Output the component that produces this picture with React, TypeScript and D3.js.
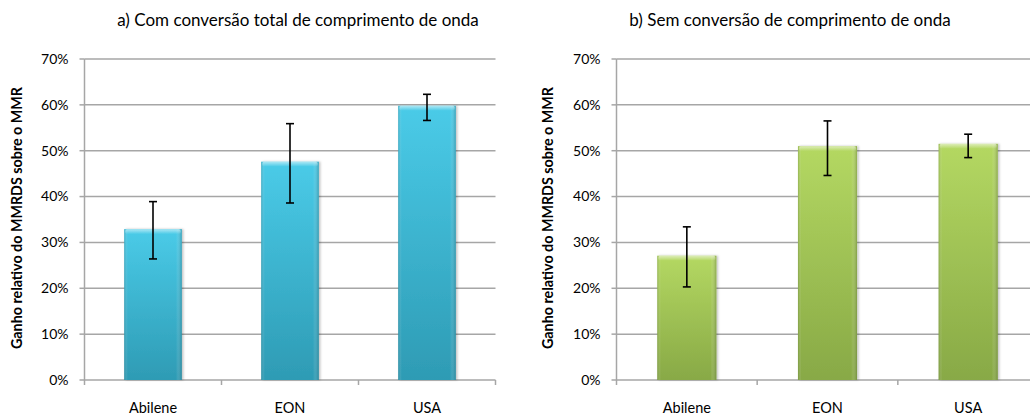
import React from "react";
import * as d3 from "d3";

const categories = ["Abilene", "EON", "USA"];
const yTicks = [0, 0.1, 0.2, 0.3, 0.4, 0.5, 0.6, 0.7];

// Panel a: full wavelength conversion
const valuesA = [0.329, 0.476, 0.598];
const errLowA = [0.264, 0.386, 0.566];
const errHighA = [0.389, 0.559, 0.623];

// Panel b: no wavelength conversion
const valuesB = [0.271, 0.510, 0.515];
const errLowB = [0.203, 0.446, 0.485];
const errHighB = [0.334, 0.565, 0.536];

const titles = [
  "a) Com conversão total de comprimento de onda",
  "b) Sem conversão de comprimento de onda",
];
const yLabel = "Ganho relativo do MMRDS sobre o MMR";

const FONT = "Lato, 'Open Sans', sans-serif";
const W = 1030;
const H = 419;

type PanelProps = {
  id: string;
  x0: number;
  x1: number;
  labelX: number;
  titleX: number;
  title: string;
  values: number[];
  lo: number[];
  hi: number[];
  top: string;
  bottom: string;
  edge: string;
};

function Panel(p: PanelProps) {
  const y = d3.scaleLinear().domain([0, 0.7]).range([380, 59]);
  const x = d3.scaleBand<string>().domain(categories).range([p.x0, p.x1]).padding(0);
  const bw = x.bandwidth() * 0.42;
  const fmt = d3.format(".0%");
  const grid = "#A6A6A6";
  return (
    <g>
      <defs>
        <linearGradient id={`v-${p.id}`} x1="0" y1="0" x2="0" y2="1">
          <stop offset="0" stopColor={p.top} />
          <stop offset="1" stopColor={p.bottom} />
        </linearGradient>
        <linearGradient id={`h-${p.id}`} x1="0" y1="0" x2="1" y2="0">
          <stop offset="0" stopColor={p.edge} stopOpacity={0.35} />
          <stop offset="0.06" stopColor="#ffffff" stopOpacity={0.0} />
          <stop offset="0.9" stopColor="#ffffff" stopOpacity={0.0} />
          <stop offset="1" stopColor={p.edge} stopOpacity={0.45} />
        </linearGradient>
        <linearGradient id={`t-${p.id}`} x1="0" y1="0" x2="0" y2="1">
          <stop offset="0" stopColor="#ffffff" stopOpacity={0.55} />
          <stop offset="1" stopColor="#ffffff" stopOpacity={0} />
        </linearGradient>
        <filter id={`s-${p.id}`} x="-20%" y="-5%" width="140%" height="110%">
          <feDropShadow dx="1.5" dy="0" stdDeviation="1.2" floodColor="#000" floodOpacity="0.25" />
        </filter>
      </defs>
      <text x={p.titleX} y={26} textAnchor="middle" fontFamily={FONT} fontSize={17} fill="#000">
        {p.title}
      </text>
      <text
        transform={`translate(${p.labelX},218) rotate(-90)`}
        textAnchor="middle"
        fontFamily={FONT}
        fontSize={14.3}
        fontWeight="bold"
        fill="#000"
      >
        {yLabel}
      </text>
      {yTicks.map((t) => (
        <g key={t}>
          {t > 0 && (
            <line x1={p.x0} x2={p.x1} y1={y(t)} y2={y(t)} stroke={grid} strokeWidth={1.5} />
          )}
          <line x1={p.x0 - 5} x2={p.x0} y1={y(t)} y2={y(t)} stroke={grid} strokeWidth={1.5} />
          <text
            x={p.x0 - 16}
            y={y(t)}
            dy="0.35em"
            textAnchor="end"
            fontFamily={FONT}
            fontSize={14}
            fill="#000"
          >
            {fmt(t)}
          </text>
        </g>
      ))}
      <line x1={p.x0} x2={p.x0} y1={y(0.7)} y2={y(0)} stroke={grid} strokeWidth={1.5} />
      <line x1={p.x0} x2={p.x1} y1={y(0)} y2={y(0)} stroke={grid} strokeWidth={1.5} />
      {[0, 1, 2, 3].map((i) => {
        const xx = p.x0 + i * x.step();
        return <line key={i} x1={xx} x2={xx} y1={y(0)} y2={y(0) + 5} stroke={grid} strokeWidth={1.5} />;
      })}
      {categories.map((c, i) => {
        const cx = (x(c) as number) + x.bandwidth() / 2;
        const bx = cx - bw / 2;
        const by = y(p.values[i]);
        const bh = y(0) - by;
        return (
          <g key={c}>
            <g filter={`url(#s-${p.id})`}>
              <rect x={bx} y={by} width={bw} height={bh} fill={`url(#v-${p.id})`} />
            </g>
            <rect x={bx} y={by} width={bw} height={bh} fill={`url(#h-${p.id})`} />
            <rect x={bx + 1} y={by} width={bw - 2} height={5} rx={2} fill={`url(#t-${p.id})`} />
            <line x1={cx} x2={cx} y1={y(p.hi[i])} y2={y(p.lo[i])} stroke="#000" strokeWidth={1.6} />
            <line x1={cx - 4} x2={cx + 4} y1={y(p.hi[i])} y2={y(p.hi[i])} stroke="#000" strokeWidth={1.6} />
            <line x1={cx - 4} x2={cx + 4} y1={y(p.lo[i])} y2={y(p.lo[i])} stroke="#000" strokeWidth={1.6} />
            <text x={cx} y={413} textAnchor="middle" fontFamily={FONT} fontSize={14.5} fill="#000">
              {c}
            </text>
          </g>
        );
      })}
    </g>
  );
}

export default function App() {
  return (
    <svg
      width={W}
      height={H}
      style={{ position: "fixed", left: 0, top: 0, background: "#fff" }}
    >
      <rect width={W} height={H} fill="#fff" />
      <Panel
        id="a"
        x0={84.5}
        x1={495.5}
        labelX={22}
        titleX={298}
        title={titles[0]}
        values={valuesA}
        lo={errLowA}
        hi={errHighA}
        top="#4ACBE8"
        bottom="#2E9BB4"
        edge="#1E6E80"
      />
      <Panel
        id="b"
        x0={616.5}
        x1={1038.5}
        labelX={553}
        titleX={790}
        title={titles[1]}
        values={valuesB}
        lo={errLowB}
        hi={errHighB}
        top="#B4D862"
        bottom="#88A946"
        edge="#5D7530"
      />
    </svg>
  );
}
